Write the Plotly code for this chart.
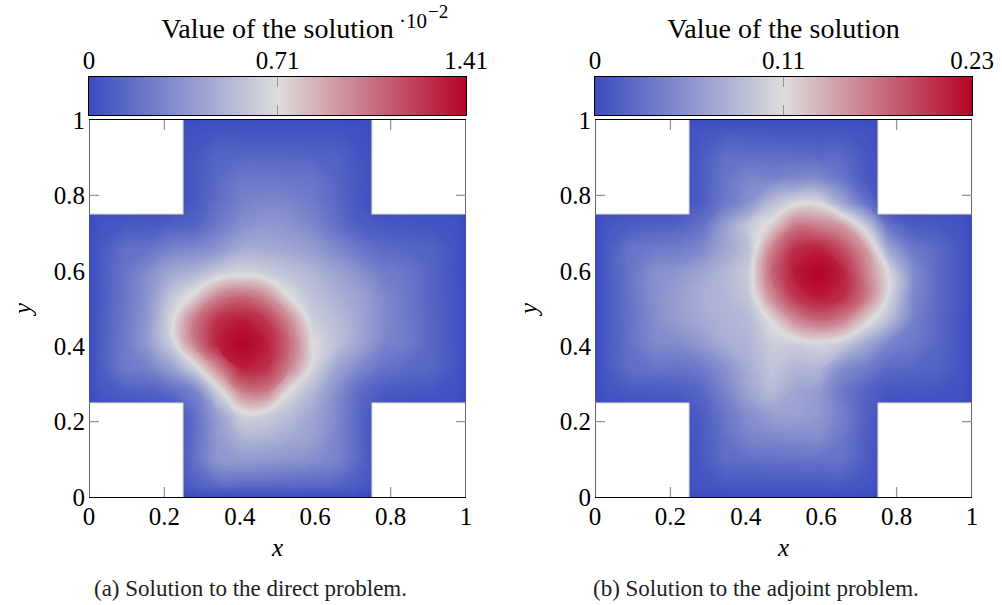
import plotly.graph_objects as go

N = None  # point outside the cross-shaped domain

# sample points (cell centres of a 16x16 grid) plus the boundary lines x,y = 0 and 1
sample_pos = [0, 0.03125, 0.09375, 0.15625, 0.21875, 0.28125, 0.34375, 0.40625, 0.46875,
              0.53125, 0.59375, 0.65625, 0.71875, 0.78125, 0.84375, 0.90625, 0.96875, 1]
boundary_value = 0

# Direct problem solution (units of 1e-2), rows from y=0.03 (bottom) to y=0.97 (top)
direct_solution = [
    [N, N, N, N, 0.10, 0.15, 0.15, 0.15, 0.14, 0.13, 0.12, 0.07, N, N, N, N],
    [N, N, N, N, 0.17, 0.36, 0.37, 0.36, 0.34, 0.31, 0.27, 0.12, N, N, N, N],
    [N, N, N, N, 0.17, 0.38, 0.50, 0.50, 0.46, 0.41, 0.28, 0.12, N, N, N, N],
    [N, N, N, N, 0.18, 0.42, 0.66, 0.64, 0.55, 0.44, 0.30, 0.12, N, N, N, N],
    [0.05, 0.09, 0.11, 0.16, 0.27, 0.66, 1.02, 1.04, 0.70, 0.53, 0.33, 0.15, 0.08, 0.06, 0.05, 0.03],
    [0.08, 0.22, 0.26, 0.41, 0.66, 1.01, 1.33, 1.28, 1.01, 0.67, 0.44, 0.30, 0.19, 0.15, 0.13, 0.05],
    [0.08, 0.22, 0.38, 0.63, 1.02, 1.33, 1.41, 1.34, 1.09, 0.70, 0.57, 0.43, 0.28, 0.23, 0.13, 0.05],
    [0.08, 0.21, 0.37, 0.67, 1.04, 1.28, 1.34, 1.25, 0.98, 0.63, 0.55, 0.44, 0.31, 0.22, 0.13, 0.05],
    [0.07, 0.20, 0.35, 0.59, 0.76, 1.01, 1.09, 0.98, 0.71, 0.57, 0.49, 0.42, 0.30, 0.21, 0.12, 0.05],
    [0.07, 0.19, 0.32, 0.45, 0.51, 0.62, 0.67, 0.63, 0.57, 0.51, 0.43, 0.34, 0.24, 0.20, 0.12, 0.04],
    [0.06, 0.17, 0.19, 0.27, 0.30, 0.36, 0.47, 0.47, 0.44, 0.39, 0.30, 0.21, 0.15, 0.13, 0.11, 0.04],
    [0.04, 0.06, 0.07, 0.10, 0.12, 0.23, 0.33, 0.37, 0.35, 0.29, 0.18, 0.09, 0.06, 0.05, 0.04, 0.03],
    [N, N, N, N, 0.07, 0.17, 0.26, 0.29, 0.28, 0.23, 0.14, 0.05, N, N, N, N],
    [N, N, N, N, 0.06, 0.14, 0.21, 0.21, 0.20, 0.19, 0.12, 0.05, N, N, N, N],
    [N, N, N, N, 0.05, 0.12, 0.12, 0.12, 0.12, 0.11, 0.10, 0.04, N, N, N, N],
    [N, N, N, N, 0.03, 0.04, 0.04, 0.04, 0.04, 0.04, 0.04, 0.02, N, N, N, N],
]

# Adjoint problem solution, rows from y=0.03 (bottom) to y=0.97 (top)
adjoint_solution = [
    [N, N, N, N, 0.006, 0.009, 0.009, 0.010, 0.010, 0.010, 0.010, 0.007, N, N, N, N],
    [N, N, N, N, 0.009, 0.024, 0.025, 0.027, 0.028, 0.028, 0.028, 0.012, N, N, N, N],
    [N, N, N, N, 0.011, 0.028, 0.044, 0.047, 0.049, 0.050, 0.034, 0.014, N, N, N, N],
    [N, N, N, N, 0.013, 0.033, 0.052, 0.065, 0.068, 0.060, 0.040, 0.017, N, N, N, N],
    [0.006, 0.011, 0.012, 0.014, 0.021, 0.044, 0.070, 0.087, 0.071, 0.063, 0.035, 0.018, 0.009, 0.008, 0.007, 0.004],
    [0.010, 0.027, 0.031, 0.031, 0.037, 0.054, 0.077, 0.095, 0.084, 0.084, 0.052, 0.039, 0.024, 0.021, 0.018, 0.007],
    [0.011, 0.029, 0.047, 0.050, 0.060, 0.077, 0.082, 0.101, 0.102, 0.108, 0.100, 0.073, 0.044, 0.035, 0.021, 0.008],
    [0.011, 0.030, 0.050, 0.063, 0.074, 0.081, 0.086, 0.115, 0.157, 0.176, 0.163, 0.122, 0.087, 0.041, 0.023, 0.008],
    [0.011, 0.031, 0.052, 0.065, 0.077, 0.083, 0.095, 0.157, 0.202, 0.217, 0.207, 0.168, 0.108, 0.048, 0.024, 0.009],
    [0.012, 0.032, 0.053, 0.058, 0.070, 0.083, 0.100, 0.176, 0.217, 0.228, 0.214, 0.164, 0.110, 0.051, 0.024, 0.009],
    [0.011, 0.031, 0.036, 0.039, 0.048, 0.071, 0.090, 0.163, 0.207, 0.214, 0.190, 0.150, 0.070, 0.035, 0.024, 0.009],
    [0.008, 0.013, 0.016, 0.019, 0.029, 0.064, 0.097, 0.122, 0.168, 0.164, 0.150, 0.100, 0.030, 0.012, 0.010, 0.006],
    [N, N, N, N, 0.014, 0.035, 0.054, 0.088, 0.108, 0.110, 0.070, 0.030, N, N, N, N],
    [N, N, N, N, 0.012, 0.031, 0.045, 0.044, 0.048, 0.048, 0.033, 0.011, N, N, N, N],
    [N, N, N, N, 0.011, 0.027, 0.026, 0.025, 0.024, 0.022, 0.022, 0.009, N, N, N, N],
    [N, N, N, N, 0.007, 0.010, 0.010, 0.009, 0.009, 0.008, 0.008, 0.005, N, N, N, N],
]

# colour ranges and colorbar ticks
direct_range = [0, 1.414]
direct_cbar_ticks = [0, 0.707, 1.414]
direct_cbar_labels = ["0", "0.71", "1.41"]
adjoint_range = [0, 0.228]
adjoint_cbar_ticks = [0, 0.114, 0.228]
adjoint_cbar_labels = ["0", "0.11", "0.23"]

axis_ticks = [0, 0.2, 0.4, 0.6, 0.8, 1]
axis_labels = ["0", "0.2", "0.4", "0.6", "0.8", "1"]
visible_ticks = [0.2, 0.8]   # tick marks visible inside the empty corners

# the four squares cut out of the unit square
corner_x = [0, 0.25, 0.25, 0, 0, None, 0.75, 1, 1, 0.75, 0.75, None,
            0, 0.25, 0.25, 0, 0, None, 0.75, 1, 1, 0.75, 0.75]
corner_y = [0.75, 0.75, 1, 1, 0.75, None, 0.75, 0.75, 1, 1, 0.75, None,
            0, 0, 0.25, 0.25, 0, None, 0, 0, 0.25, 0.25, 0]
# inner (grey) edges of those squares, i.e. the re-entrant walls of the domain
wall_x = [0, 0.25, 0.25, None, 0.75, 0.75, 1, None, 0, 0.25, 0.25, None, 0.75, 0.75, 1]
wall_y = [0.75, 0.75, 1, None, 1, 0.75, 0.75, None, 0.25, 0.25, 0, None, 0, 0.25, 0.25]
# left/right parts of the axis box that stay visible beside the empty corners
side_x = [0, 0, None, 0, 0, None, 1, 1, None, 1, 1]
side_y = [0, 0.25, None, 0.75, 1, None, 0, 0.25, None, 0.75, 1]

captions = ["(a) Solution to the direct problem.", "(b) Solution to the adjoint problem."]
cbar_title = "Value of the solution"
exponent_base = "·10"
exponent_power = "−2"

coolwarm = [[0.0, "rgb(59,76,192)"], [0.5, "rgb(221,221,221)"], [1.0, "rgb(180,4,38)"]]

FONT = "Liberation Serif"
FS = 25
W, H = 1002, 605
N_LEVELS = 120
TICK_LEN = 10
GREY_TICK = "rgb(150,150,150)"

# pixel layout
xa_px = (89, 466)
xb_px = (595, 972)
plot_top, plot_bot = 120, 497
cb_top, cb_bot = 77, 115
TICK_FRAC = TICK_LEN / (plot_bot - plot_top)   # tick length in axis units


def px_x(p):
    return p / W


def px_y(p):
    return (H - p) / H


def with_boundary(z):
    inner = [[boundary_value] + [boundary_value if v is None else v for v in row] + [boundary_value]
             for row in z]
    edge = [boundary_value] * len(inner[0])
    return [edge] + inner + [edge]


fig = go.Figure()

panels = [
    (direct_solution, direct_range, direct_cbar_ticks, direct_cbar_labels, xa_px, 1),
    (adjoint_solution, adjoint_range, adjoint_cbar_ticks, adjoint_cbar_labels, xb_px, 2),
]

layout_axes = {}
shapes = []
tick_line = dict(color=GREY_TICK, width=1.3)
for z, zr, cbt, cbl, xpx, k in panels:
    s_main = "" if k == 1 else "2"
    s_cb = str(k + 2)
    xr, yr = "x" + s_main, "y" + s_main
    cxr, cyr = "x" + s_cb, "y" + s_cb

    fig.add_trace(go.Contour(
        z=with_boundary(z), x=sample_pos, y=sample_pos, zmin=zr[0], zmax=zr[1],
        colorscale=coolwarm, showscale=False, autocontour=False,
        contours=dict(start=zr[0], end=zr[1], size=(zr[1] - zr[0]) / N_LEVELS,
                      coloring="fill", showlines=False),
        line=dict(width=0, smoothing=1.3),
        xaxis=xr, yaxis=yr, hoverinfo="skip"))
    fig.add_trace(go.Scatter(
        x=corner_x, y=corner_y, mode="lines", fill="toself", fillcolor="white",
        xaxis=xr, yaxis=yr, line=dict(color="white", width=0),
        showlegend=False, hoverinfo="skip"))
    fig.add_trace(go.Scatter(
        x=wall_x, y=wall_y, mode="lines", xaxis=xr, yaxis=yr,
        line=dict(color="rgb(170,170,170)", width=1),
        showlegend=False, hoverinfo="skip"))
    fig.add_trace(go.Scatter(
        x=side_x, y=side_y, mode="lines", xaxis=xr, yaxis=yr, cliponaxis=False,
        line=dict(color="black", width=1.2),
        showlegend=False, hoverinfo="skip"))
    # colour bar strip
    fig.add_trace(go.Heatmap(
        z=[zr, zr], x=zr, y=[0, 1], zmin=zr[0], zmax=zr[1],
        colorscale=coolwarm, zsmooth="best", showscale=False,
        xaxis=cxr, yaxis=cyr, hoverinfo="skip"))

    # small grey tick marks, visible in the empty corners
    for t in visible_ticks:
        shapes += [
            dict(type="line", xref=xr, yref=yr, x0=t, x1=t, y0=0, y1=TICK_FRAC,
                 line=tick_line, layer="above"),
            dict(type="line", xref=xr, yref=yr, x0=t, x1=t, y0=1, y1=1 - TICK_FRAC,
                 line=tick_line, layer="above"),
            dict(type="line", xref=xr, yref=yr, x0=0, x1=TICK_FRAC, y0=t, y1=t,
                 line=tick_line, layer="above"),
            dict(type="line", xref=xr, yref=yr, x0=1, x1=1 - TICK_FRAC, y0=t, y1=t,
                 line=tick_line, layer="above"),
        ]

    dom_x = [px_x(xpx[0]), px_x(xpx[1])]
    dom_y = [px_y(plot_bot), px_y(plot_top)]
    tick_font = dict(family=FONT, size=FS, color="black")
    layout_axes["xaxis" + s_main] = dict(
        domain=dom_x, anchor=yr, range=[0, 1], tickvals=axis_ticks, ticktext=axis_labels,
        ticks="", showline=True, linecolor="black", linewidth=1.2, mirror=True,
        showgrid=False, zeroline=False, tickfont=tick_font, ticklabelstandoff=-3,
        title=dict(text="<i>x</i>", font=tick_font, standoff=9),
        automargin=False, fixedrange=True)
    layout_axes["yaxis" + s_main] = dict(
        domain=dom_y, anchor=xr, range=[0, 1], tickvals=axis_ticks, ticktext=axis_labels,
        ticks="", showline=False,
        showgrid=False, zeroline=False, tickfont=tick_font, ticklabelstandoff=3,
        title=dict(text="<i>y</i>", font=tick_font, standoff=15),
        automargin=False, fixedrange=True)
    layout_axes["xaxis" + s_cb] = dict(
        domain=dom_x, anchor=cyr, range=zr, side="top",
        tickvals=cbt, ticktext=cbl,
        ticks="inside", ticklen=TICK_LEN, tickwidth=1.2, tickcolor=GREY_TICK,
        showline=True, linecolor="black", linewidth=1.2, mirror="ticks",
        showgrid=False, zeroline=False, tickfont=tick_font, ticklabelstandoff=-3,
        title=dict(text=cbar_title, font=dict(family=FONT, size=28, color="black"), standoff=0),
        automargin=False, fixedrange=True)
    layout_axes["yaxis" + s_cb] = dict(
        domain=[px_y(cb_bot), px_y(cb_top)], anchor=cxr, range=[0, 1],
        showticklabels=False, ticks="", showline=True, linecolor="black", linewidth=1.2,
        mirror=True, showgrid=False, zeroline=False, automargin=False, fixedrange=True)

cap_font = dict(family=FONT, size=23, color="rgb(30,30,30)")
annotations = [
    dict(text=captions[0], x=px_x(250), y=px_y(588), xref="paper", yref="paper",
         showarrow=False, xanchor="center", yanchor="middle", font=cap_font),
    dict(text=captions[1], x=px_x(756), y=px_y(588), xref="paper", yref="paper",
         showarrow=False, xanchor="center", yanchor="middle", font=cap_font),
    dict(text=exponent_base, x=px_x(397), y=px_y(21), xref="paper", yref="paper",
         showarrow=False, xanchor="left", yanchor="middle",
         font=dict(family=FONT, size=21, color="black")),
    dict(text=exponent_power, x=px_x(426), y=px_y(12), xref="paper", yref="paper",
         showarrow=False, xanchor="left", yanchor="middle",
         font=dict(family=FONT, size=19, color="black")),
]

fig.update_layout(
    width=W, height=H,
    margin=dict(l=0, r=0, t=0, b=0, pad=0, autoexpand=False),
    paper_bgcolor="white", plot_bgcolor="rgba(0,0,0,0)",
    showlegend=False,
    annotations=annotations,
    shapes=shapes,
    **layout_axes,
)

fig.write_html("out.html", config={"displayModeBar": False},
               post_script="document.body.style.margin='0px';")
